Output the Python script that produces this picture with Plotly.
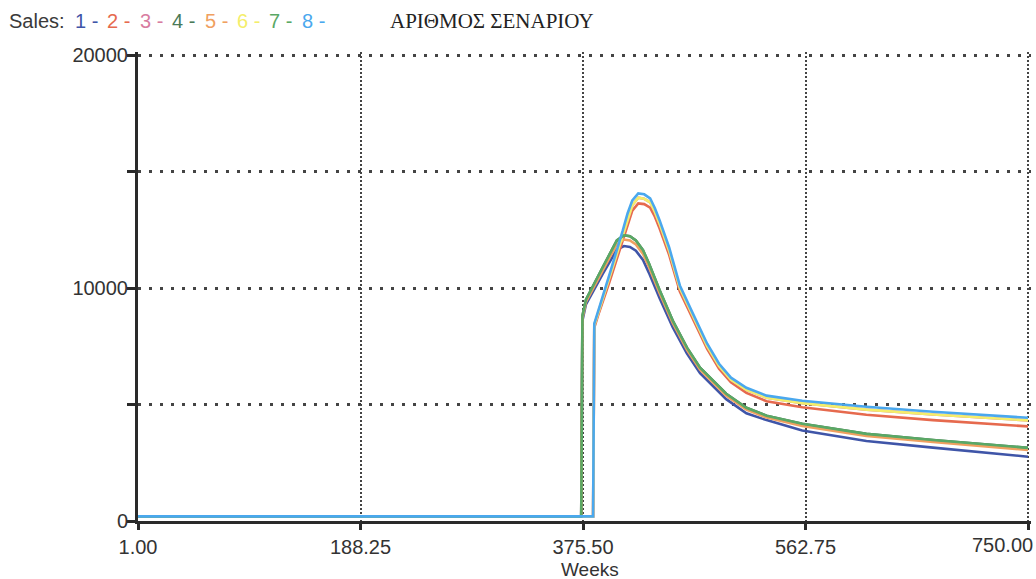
import plotly.graph_objects as go

# ---- data ----
weeks_a = [1, 374, 375, 378, 392, 404, 410, 415, 420, 426, 431, 440, 451, 463, 474, 485, 496, 513, 530, 560, 614, 670, 750]
weeks_b = [1, 384, 385, 389, 398, 409, 413, 417, 422, 427, 432, 436, 440, 448, 457, 468, 480, 490, 500, 513, 530, 560, 614, 670, 750]

sales_1 = [200, 200, 8600, 9300, 10600, 11650, 11800, 11760, 11600, 11200, 10650, 9560, 8320, 7190, 6350, 5790, 5230, 4620, 4330, 3880, 3430, 3150, 2760]
sales_2 = [200, 200, 8300, 8950, 10300, 12050, 12760, 13320, 13630, 13600, 13450, 13060, 12550, 11420, 9850, 8650, 7390, 6540, 5950, 5500, 5140, 4880, 4560, 4330, 4060]
sales_3 = [200, 200, 8400, 9050, 10450, 12250, 12980, 13550, 13880, 13830, 13680, 13260, 12750, 11600, 10000, 8780, 7500, 6650, 6060, 5630, 5290, 5060, 4780, 4570, 4320]
sales_4 = [200, 200, 8800, 9500, 10880, 12040, 12260, 12220, 12040, 11620, 11050, 9900, 8600, 7440, 6580, 6020, 5460, 4860, 4520, 4170, 3740, 3480, 3140]
sales_5 = [200, 200, 8700, 9400, 10750, 11880, 12080, 12040, 11870, 11460, 10900, 9780, 8500, 7350, 6500, 5930, 5380, 4780, 4440, 4080, 3650, 3390, 3050]
sales_6 = [200, 200, 8400, 9050, 10450, 12250, 12980, 13550, 13880, 13830, 13680, 13260, 12750, 11600, 10000, 8780, 7500, 6650, 6060, 5630, 5290, 5060, 4780, 4570, 4320]
sales_7 = [200, 200, 8800, 9500, 10880, 12040, 12260, 12220, 12040, 11620, 11050, 9900, 8600, 7440, 6580, 6020, 5460, 4860, 4520, 4170, 3740, 3480, 3140]
sales_8 = [200, 200, 8470, 9160, 10620, 12470, 13200, 13760, 14060, 14020, 13850, 13420, 12900, 11740, 10110, 8900, 7610, 6750, 6150, 5720, 5380, 5160, 4900, 4690, 4430]

series_names = ["1", "2", "3", "4", "5", "6", "7", "8"]
series_weeks = [weeks_a, weeks_b, weeks_b, weeks_a, weeks_a, weeks_b, weeks_a, weeks_b]
series_values = [sales_1, sales_2, sales_3, sales_4, sales_5, sales_6, sales_7, sales_8]
series_colors = ["#3f55a8", "#e66a4e", "#d87ca0", "#4a7a58", "#f0a060", "#f4ee6a", "#5aa865", "#4aa8ee"]

x_ticks = [1, 188.25, 375.5, 562.75, 750]
x_tick_text = ["1.00", "188.25", "375.50", "562.75", ""]
last_x_label = "750.00"
y_ticks = [0, 5000, 10000, 15000, 20000]
y_tick_text = ["0", "", "10000", "", "20000"]

fig = go.Figure()
for name, wx, vy, col in zip(series_names, series_weeks, series_values, series_colors):
    fig.add_trace(go.Scatter(x=wx, y=vy, mode="lines", name=name,
                             line=dict(color=col, width=2.6),
                             showlegend=False))

L, R, T, B = 138, 5, 52, 58
W, H = 1036, 579
pw, ph = W - L - R, H - T - B
x_max = 1 + 749 * pw / 890.0
y_max = 20000 * ph / 466.0

def px(xpix):
    return (xpix - L) / pw

def py(ypix):
    return (H - B - ypix) / ph

FONT = "Liberation Sans, Arial"
fig.add_annotation(text="Sales:", xref="paper", yref="paper", x=px(7), y=py(21),
                   xanchor="left", yanchor="middle", showarrow=False,
                   font=dict(family=FONT, size=20, color="#3a3a3a"))
for i, (n, c) in enumerate(zip(series_names, series_colors)):
    fig.add_annotation(text=f"{n} -", xref="paper", yref="paper", x=px(73 + i * 32.4), y=py(21),
                       xanchor="left", yanchor="middle", showarrow=False,
                       font=dict(family=FONT, size=20, color=c))
fig.add_annotation(text="ΑΡΙΘΜΟΣ ΣΕΝΑΡΙΟΥ", xref="paper", yref="paper", x=px(492), y=py(21),
                   xanchor="center", yanchor="middle", showarrow=False,
                   font=dict(family="Liberation Serif, Times New Roman", size=21, color="#222"))
fig.add_annotation(text="Weeks", xref="paper", yref="paper", x=px(590), y=py(569),
                   xanchor="center", yanchor="middle", showarrow=False,
                   font=dict(family=FONT, size=19, color="#333"))
fig.add_annotation(text=last_x_label, xref="paper", yref="paper", x=px(1035), y=py(545),
                   xanchor="right", yanchor="middle", showarrow=False,
                   font=dict(family=FONT, size=20, color="#333"))

fig.update_layout(
    width=W, height=H,
    margin=dict(l=L, r=R, t=T, b=B, pad=0),
    paper_bgcolor="white", plot_bgcolor="white",
    font=dict(family=FONT, size=20, color="#333"),
)
fig.update_xaxes(range=[1, x_max], tickvals=x_ticks, ticktext=x_tick_text,
                 showgrid=True, gridcolor="#444", griddash="2px,2px", gridwidth=2,
                 showline=True, linecolor="#2a2a2a", linewidth=3,
                 ticks="outside", ticklen=6, tickwidth=3, tickcolor="#2a2a2a",
                 zeroline=False, fixedrange=True)
fig.update_yaxes(range=[0, y_max], tickvals=y_ticks, ticktext=y_tick_text,
                 showgrid=True, gridcolor="#444", griddash="3px,8px", gridwidth=2.5,
                 showline=True, linecolor="#2a2a2a", linewidth=3,
                 ticks="outside", ticklen=8, tickwidth=3, tickcolor="#2a2a2a",
                 ticklabelstandoff=-5,
                 zeroline=False, fixedrange=True)

fig.write_html("out.html")
